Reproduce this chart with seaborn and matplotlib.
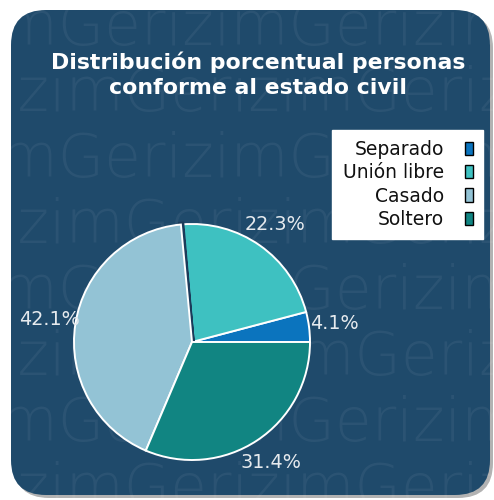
import matplotlib
matplotlib.use("Agg")
import matplotlib.pyplot as plt
import seaborn as sns
from matplotlib.patches import FancyBboxPatch, Patch

# ---- data ----
categories = ["Separado", "Unión libre", "", "Casado", "Soltero"]
values = [4.1, 22.3, 0.1, 42.1, 31.4]
colors = ["#0b74be", "#3ec1c1", "#1b3b5a", "#93c3d5", "#118582"]
legend_idx = [0, 1, 3, 4]
title = "Distribución porcentual personas\nconforme al estado civil"
watermark = "Gerizim"

sns.set_theme(style="white")
plt.rcParams['font.family'] = ['DejaVu Sans']

fig = plt.figure(figsize=(4.94, 5.0), dpi=100)
fig.patch.set_facecolor('white')
renderer = fig.canvas.get_renderer()

shadow = FancyBboxPatch((0.14, 0.02), 4.79, 4.85,
                        boxstyle="round,pad=0,rounding_size=0.35",
                        transform=fig.dpi_scale_trans, facecolor='#555555',
                        alpha=0.45, edgecolor='none', zorder=0)
fig.patches.append(shadow)
panel = FancyBboxPatch((0.11, 0.05), 4.79, 4.85,
                       boxstyle="round,pad=0,rounding_size=0.35",
                       transform=fig.dpi_scale_trans, facecolor='#1f4a6b',
                       edgecolor='none', zorder=1)
fig.patches.append(panel)

# watermark rows
wm_font = dict(family=['DejaVu Sans'], fontweight='ultralight')
wm_size = 43
for k in range(8):
    yb = 45 + 66 * k
    x0 = 57 - 230 if k % 2 == 0 else 123 - 230
    t = fig.text(x0 / 494, 1 - yb / 500, watermark * 4, fontsize=wm_size,
                 color='white', alpha=0.055, ha='left', va='baseline',
                 zorder=2, **wm_font)
    t.set_clip_path(panel)

# title, fitted to width ~413 px
tprobe = fig.text(0, 0, "Distribución porcentual personas", fontsize=14,
                  fontweight='bold')
tw = tprobe.get_window_extent(renderer).width
tprobe.remove()
tsize = 14 * 413 / tw
fig.text(258 / 494, 1 - 75 / 500, title, ha='center', va='center',
         fontsize=tsize, fontweight='bold', color='white', linespacing=1.3,
         zorder=5)

# pie
ax = fig.add_axes([38.6 / 494, 4.6 / 500, 306.8 / 494, 306.8 / 500])
ax.set_zorder(3)
ax.patch.set_alpha(0)


def fmt(p):
    return '' if p < 1 else f'{p:.1f}%'


wedges, texts, autotexts = ax.pie(
    values, colors=colors, startangle=0, counterclock=True, autopct=fmt,
    pctdistance=1.22, radius=1.0,
    wedgeprops=dict(edgecolor='white', linewidth=1.4),
    textprops=dict(color='#e6eaee', fontsize=13.8))
wedges[2].set_edgecolor(colors[2])
wedges[2].set_linewidth(4.0)
ax.set_xlim(-1.3, 1.3)
ax.set_ylim(-1.3, 1.3)
ax.axis('off')

handles = [Patch(facecolor=colors[i], edgecolor='black', label=categories[i])
           for i in legend_idx]
leg = fig.legend(handles=handles, loc='upper right',
                 bbox_to_anchor=(483 / 494, 370 / 500), markerfirst=False,
                 frameon=True, fancybox=False, fontsize=13.5,
                 handlelength=0.4, handleheight=0.7, handletextpad=1.15,
                 labelspacing=0.22, borderpad=0.55, borderaxespad=0)
leg.get_frame().set_facecolor('white')
leg.get_frame().set_edgecolor('white')
leg.get_frame().set_alpha(1)
leg.set_zorder(6)
for t in leg.get_texts():
    t.set_color('#111111')

fig.savefig('out.png', dpi=100)
